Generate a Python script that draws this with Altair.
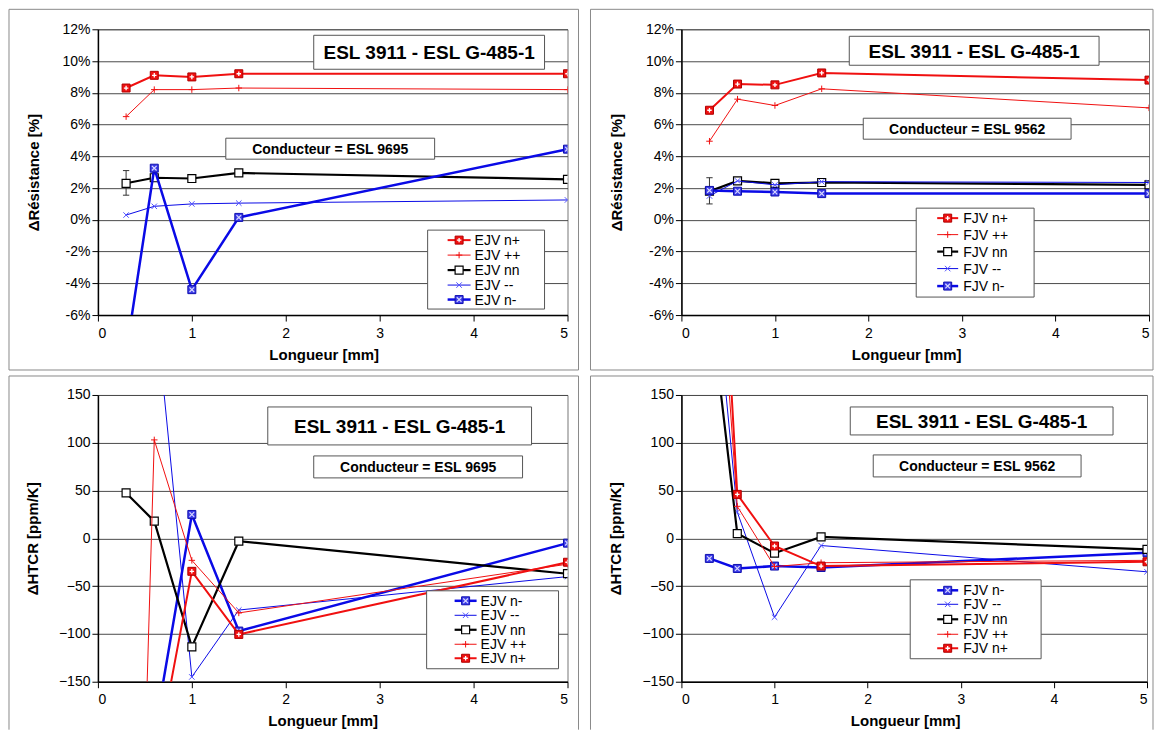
import altair as alt
import pandas as pd

# ---------------- data ----------------
LENGTHS = [0.3, 0.6, 1.0, 1.5, 5.0]

EJV_RES_NPLUS = [8.3, 9.1, 9.0, 9.2, 9.2]
EJV_RES_PP = [6.5, 8.2, 8.2, 8.3, 8.2]
EJV_RES_NN = [2.3, 2.65, 2.6, 2.95, 2.55]
EJV_RES_MM = [0.3, 0.85, 1.0, 1.05, 1.25]
EJV_RES_NMINUS = [-8.4, 3.25, -4.4, 0.15, 4.45]
EJV_RES_NN_ERR = [1.55, 3.1]

FJV_RES_NPLUS = [6.9, 8.55, 8.5, 9.25, 8.8]
FJV_RES_PP = [4.95, 7.6, 7.2, 8.25, 7.05]
FJV_RES_NN = [1.8, 2.45, 2.3, 2.35, 2.2]
FJV_RES_MM = [1.5, 2.45, 2.2, 2.4, 2.35]
FJV_RES_NMINUS = [1.85, 1.8, 1.75, 1.65, 1.65]
FJV_RES_NN_ERR = [1.0, 2.65]

EJV_HTCR_NMINUS = [None, -205, 25, -97, -5]
EJV_HTCR_MM = [None, 256, -145, -75, -40]
EJV_HTCR_NN = [47.5, 18, -113.5, -3, -37]
EJV_HTCR_PP = [-900, 103, -23, -78, -27]
EJV_HTCR_NPLUS = [None, -244, -34.5, -100.5, -25]

FJV_HTCR_NMINUS = [-21, -31.5, -29, -30.5, -15]
FJV_HTCR_MM = [333, 27.5, -82.5, -7.5, -35]
FJV_HTCR_NN = [255, 5, -15.5, 1.5, -11.5]
FJV_HTCR_PP = [446, 33.5, -29.5, -25.5, -23]
FJV_HTCR_NPLUS = [562, 46, -8, -29, -24.5]

SERIES_KEYS_TOP = ["n+", "++", "nn", "--", "n-"]
SERIES_KEYS_BOTTOM = ["n-", "--", "nn", "++", "n+"]
EJV_LABELS = {"n+": "EJV n+", "++": "EJV ++", "nn": "EJV nn", "--": "EJV --", "n-": "EJV n-"}
FJV_LABELS = {"n+": "FJV n+", "++": "FJV ++", "nn": "FJV nn", "--": "FJV --", "n-": "FJV n-"}

TITLE_TEXT = "ESL 3911 - ESL G-485-1"
COND_EJV = "Conducteur = ESL 9695"
COND_FJV = "Conducteur = ESL 9562"
X_TITLE = "Longueur [mm]"
Y_TITLE_RES = "ΔRésistance [%]"
Y_TITLE_HTCR = "ΔHTCR [ppm/K]"
RES_TICKS = [-6, -4, -2, 0, 2, 4, 6, 8, 10, 12]
HTCR_TICKS = [-150, -100, -50, 0, 50, 100, 150]
X_TICKS = [0, 1, 2, 3, 4, 5]

# ---------------- styles ----------------
FONT = "Liberation Sans"
RED = "#f01010"
BLUE = "#0a0ae6"
PLUS = "M-1,0H1M0,-1V1"
CROSS = "M-1,-1L1,1M-1,1L1,-1"
HBAR = "M-1,0H1"

STYLE = {
    "n+": dict(color=RED, width=2.0, markers=[
        dict(shape="square", size=64, fill=RED, stroke="#b00000", sw=1, filled=True),
        dict(shape=PLUS, size=20, stroke="white", sw=1.3, filled=False)]),
    "++": dict(color=RED, width=1.0, markers=[
        dict(shape=PLUS, size=42, stroke=RED, sw=1.0, filled=False)]),
    "nn": dict(color="black", width=2.2, markers=[
        dict(shape="square", size=64, fill="white", stroke="black", sw=1.2, filled=True)]),
    "--": dict(color=BLUE, width=1.0, markers=[
        dict(shape=CROSS, size=30, stroke="#5050ff", sw=1.0, filled=False)]),
    "n-": dict(color=BLUE, width=2.5, markers=[
        dict(shape="square", size=64, fill="#3c3ce8", stroke="#1010b0", sw=1, filled=True),
        dict(shape=CROSS, size=22, stroke="#d8d8ff", sw=1.2, filled=False)]),
}

ONE = pd.DataFrame({"k": [0]})
FRAME = "#8a8a8a"


def point_kw(m, clip):
    kw = dict(shape=m["shape"], size=m["size"], stroke=m["stroke"], strokeWidth=m["sw"],
              filled=m["filled"], opacity=1, clip=clip)
    if m["filled"]:
        kw["fill"] = m["fill"]
    return kw


def vrule(x, y1, y2):
    return alt.Chart(ONE).mark_rule(color=FRAME, strokeWidth=1).encode(
        x=alt.value(x), y=alt.value(y1), y2=alt.value(y2))


def hrule(y, x1, x2):
    return alt.Chart(ONE).mark_rule(color=FRAME, strokeWidth=1).encode(
        y=alt.value(y), x=alt.value(x1), x2=alt.value(x2))


def make_panel(values, order, labels, err, ydomain, yticks, pct, ytitle, cond, g):
    W, H = g["w"], g["h"]
    xs = alt.Scale(domain=[0, 5], nice=False, zero=False)
    ys = alt.Scale(domain=ydomain, nice=False, zero=False)
    xaxis = alt.Axis(values=X_TICKS, title=X_TITLE, grid=False, format="d",
                     titleX=g["xtx"], titleY=44, titleBaseline="alphabetic", titleAlign="center")
    yargs = dict(values=yticks, title=ytitle, grid=True, titleX=g["ytx"],
                 titleBaseline="middle", titleAngle=270)
    if pct:
        yargs["labelExpr"] = "datum.value + '%'"
    yaxis = alt.Axis(**yargs)

    layers = []
    # outer frame of the panel (bottom edge only when it is inside the page)
    fl, ft, fr, fb, closed = g["frame"]
    layers += [vrule(fl, ft, fb), vrule(fr, ft, fb), hrule(ft, fl, fr)]
    if closed:
        layers.append(hrule(fb, fl, fr))

    # data series
    for key in order:
        st = STYLE[key]
        df = pd.DataFrame({"x": LENGTHS, "y": values[key]}).dropna()
        enc = dict(x=alt.X("x:Q", scale=xs, axis=xaxis), y=alt.Y("y:Q", scale=ys, axis=yaxis))
        layers.append(alt.Chart(df).mark_line(color=st["color"], strokeWidth=st["width"], clip=True).encode(**enc))
        if key == "nn" and err is not None:
            edf = pd.DataFrame({"x": [LENGTHS[0]], "lo": [err[0]], "hi": [err[1]]})
            layers.append(alt.Chart(edf).mark_rule(color="#333333", strokeWidth=1).encode(
                x=alt.X("x:Q", scale=xs, axis=xaxis), y=alt.Y("lo:Q", scale=ys, axis=yaxis), y2="hi:Q"))
            cdf = pd.DataFrame({"x": [LENGTHS[0], LENGTHS[0]], "y": err})
            layers.append(alt.Chart(cdf).mark_point(shape=HBAR, size=40, stroke="#333333", strokeWidth=1,
                                                    filled=False, opacity=1).encode(**enc))
        for m in st["markers"]:
            layers.append(alt.Chart(df).mark_point(**point_kw(m, True)).encode(**enc))

    # title box
    t = g["title"]
    layers.append(alt.Chart(ONE).mark_rect(fill="white", stroke="#555555", strokeWidth=1).encode(
        x=alt.value(t[0]), x2=alt.value(t[2]), y=alt.value(t[1]), y2=alt.value(t[3])))
    layers.append(alt.Chart(ONE).mark_text(text=TITLE_TEXT, font=FONT, fontSize=19, fontWeight="bold",
                                           align="center", baseline="middle", color="black").encode(
        x=alt.value((t[0] + t[2]) / 2), y=alt.value((t[1] + t[3]) / 2 + 1)))
    c = g["cond"]
    layers.append(alt.Chart(ONE).mark_rect(fill="white", stroke="#555555", strokeWidth=1).encode(
        x=alt.value(c[0]), x2=alt.value(c[2]), y=alt.value(c[1]), y2=alt.value(c[3])))
    layers.append(alt.Chart(ONE).mark_text(text=cond, font=FONT, fontSize=14, fontWeight="bold",
                                           align="center", baseline="middle", color="black").encode(
        x=alt.value((c[0] + c[2]) / 2), y=alt.value((c[1] + c[3]) / 2 + 1)))

    # legend
    lb = g["leg"]
    layers.append(alt.Chart(ONE).mark_rect(fill="white", stroke="#555555", strokeWidth=1).encode(
        x=alt.value(lb[0]), x2=alt.value(lb[2]), y=alt.value(lb[1]), y2=alt.value(lb[3])))
    sx1, sx2, tx = g["legsym"]
    for key, yy in zip(order, g["legrows"]):
        st = STYLE[key]
        layers.append(alt.Chart(ONE).mark_rule(color=st["color"], strokeWidth=st["width"]).encode(
            x=alt.value(sx1), x2=alt.value(sx2), y=alt.value(yy)))
        for m in st["markers"]:
            layers.append(alt.Chart(ONE).mark_point(**point_kw(m, False)).encode(
                x=alt.value((sx1 + sx2) / 2), y=alt.value(yy)))
        layers.append(alt.Chart(ONE).mark_text(text=labels[key], font=FONT, fontSize=14, align="left",
                                               baseline="middle", color="black").encode(
            x=alt.value(tx), y=alt.value(yy + 1)))

    return alt.layer(*layers).properties(width=W, height=H)


res_ejv = {"n+": EJV_RES_NPLUS, "++": EJV_RES_PP, "nn": EJV_RES_NN, "--": EJV_RES_MM, "n-": EJV_RES_NMINUS}
res_fjv = {"n+": FJV_RES_NPLUS, "++": FJV_RES_PP, "nn": FJV_RES_NN, "--": FJV_RES_MM, "n-": FJV_RES_NMINUS}
htcr_ejv = {"n+": EJV_HTCR_NPLUS, "++": EJV_HTCR_PP, "nn": EJV_HTCR_NN, "--": EJV_HTCR_MM, "n-": EJV_HTCR_NMINUS}
htcr_fjv = {"n+": FJV_HTCR_NPLUS, "++": FJV_HTCR_PP, "nn": FJV_HTCR_NN, "--": FJV_HTCR_MM, "n-": FJV_HTCR_NMINUS}

# plot origins: TL (97,28), TR (681,28), BL (97,394), BR (681,394)
G_TL = dict(w=470, h=286, frame=(-89, -20, 481, 341, True), xtx=226, ytx=-64,
            title=(216, 6, 447, 40), cond=(128, 109, 337, 130),
            leg=(330, 201, 447, 280), legrows=[211, 226, 241, 256, 270.5], legsym=(350, 373, 377))
G_TR = dict(w=468, h=286, frame=(-91, -20, 472, 341, True), xtx=225, ytx=-65,
            title=(168, 7, 418, 36), cond=(182, 89, 390, 110),
            leg=(235, 179, 353, 268), legrows=[189, 205.5, 222.5, 239.5, 257], legsym=(256, 277, 282))
G_BL = dict(w=470, h=287, frame=(-89, -19, 481, 335, False), xtx=225, ytx=-65,
            title=(170, 12, 434, 50), cond=(216, 61, 425, 83),
            leg=(329, 196, 461, 274), legrows=[206, 220.5, 235, 249.5, 263.5], legsym=(357, 379, 383))
G_BR = dict(w=466, h=287, frame=(-91, -19, 472, 335, False), xtx=224, ytx=-66,
            title=(169, 12, 432, 40), cond=(192, 60, 400, 82),
            leg=(229, 185, 360, 264), legrows=[195.5, 209.5, 224.5, 239.5, 253.5], legsym=(256, 277, 282))

tl = make_panel(res_ejv, SERIES_KEYS_TOP, EJV_LABELS, EJV_RES_NN_ERR, [-6, 12], RES_TICKS, True,
                Y_TITLE_RES, COND_EJV, G_TL)
tr = make_panel(res_fjv, SERIES_KEYS_TOP, FJV_LABELS, FJV_RES_NN_ERR, [-6, 12], RES_TICKS, True,
                Y_TITLE_RES, COND_FJV, G_TR)
bl = make_panel(htcr_ejv, SERIES_KEYS_BOTTOM, EJV_LABELS, None, [-150, 150], HTCR_TICKS, False,
                Y_TITLE_HTCR, COND_EJV, G_BL)
br = make_panel(htcr_fjv, SERIES_KEYS_BOTTOM, FJV_LABELS, None, [-150, 150], HTCR_TICKS, False,
                Y_TITLE_HTCR, COND_FJV, G_BR)

chart = alt.concat(
    tl, tr, bl, br, columns=2, spacing={"row": 80, "column": 114}, bounds="flush"
).properties(
    padding=0, background="white"
).configure_view(
    stroke="#777777", strokeWidth=1
).configure_axis(
    labelFont=FONT, labelFontSize=14, labelColor="black",
    titleFont=FONT, titleFontSize=15, titleFontWeight="bold", titleColor="black",
    tickColor="black", domainColor="black", gridColor="#4a4a4a", gridWidth=1,
    tickSize=6, domainWidth=1.5
).configure_axisY(
    labelPadding=2
).configure_axisX(
    labelPadding=5
)

chart.save("out.html", embed_options={"renderer": "svg", "actions": False})
